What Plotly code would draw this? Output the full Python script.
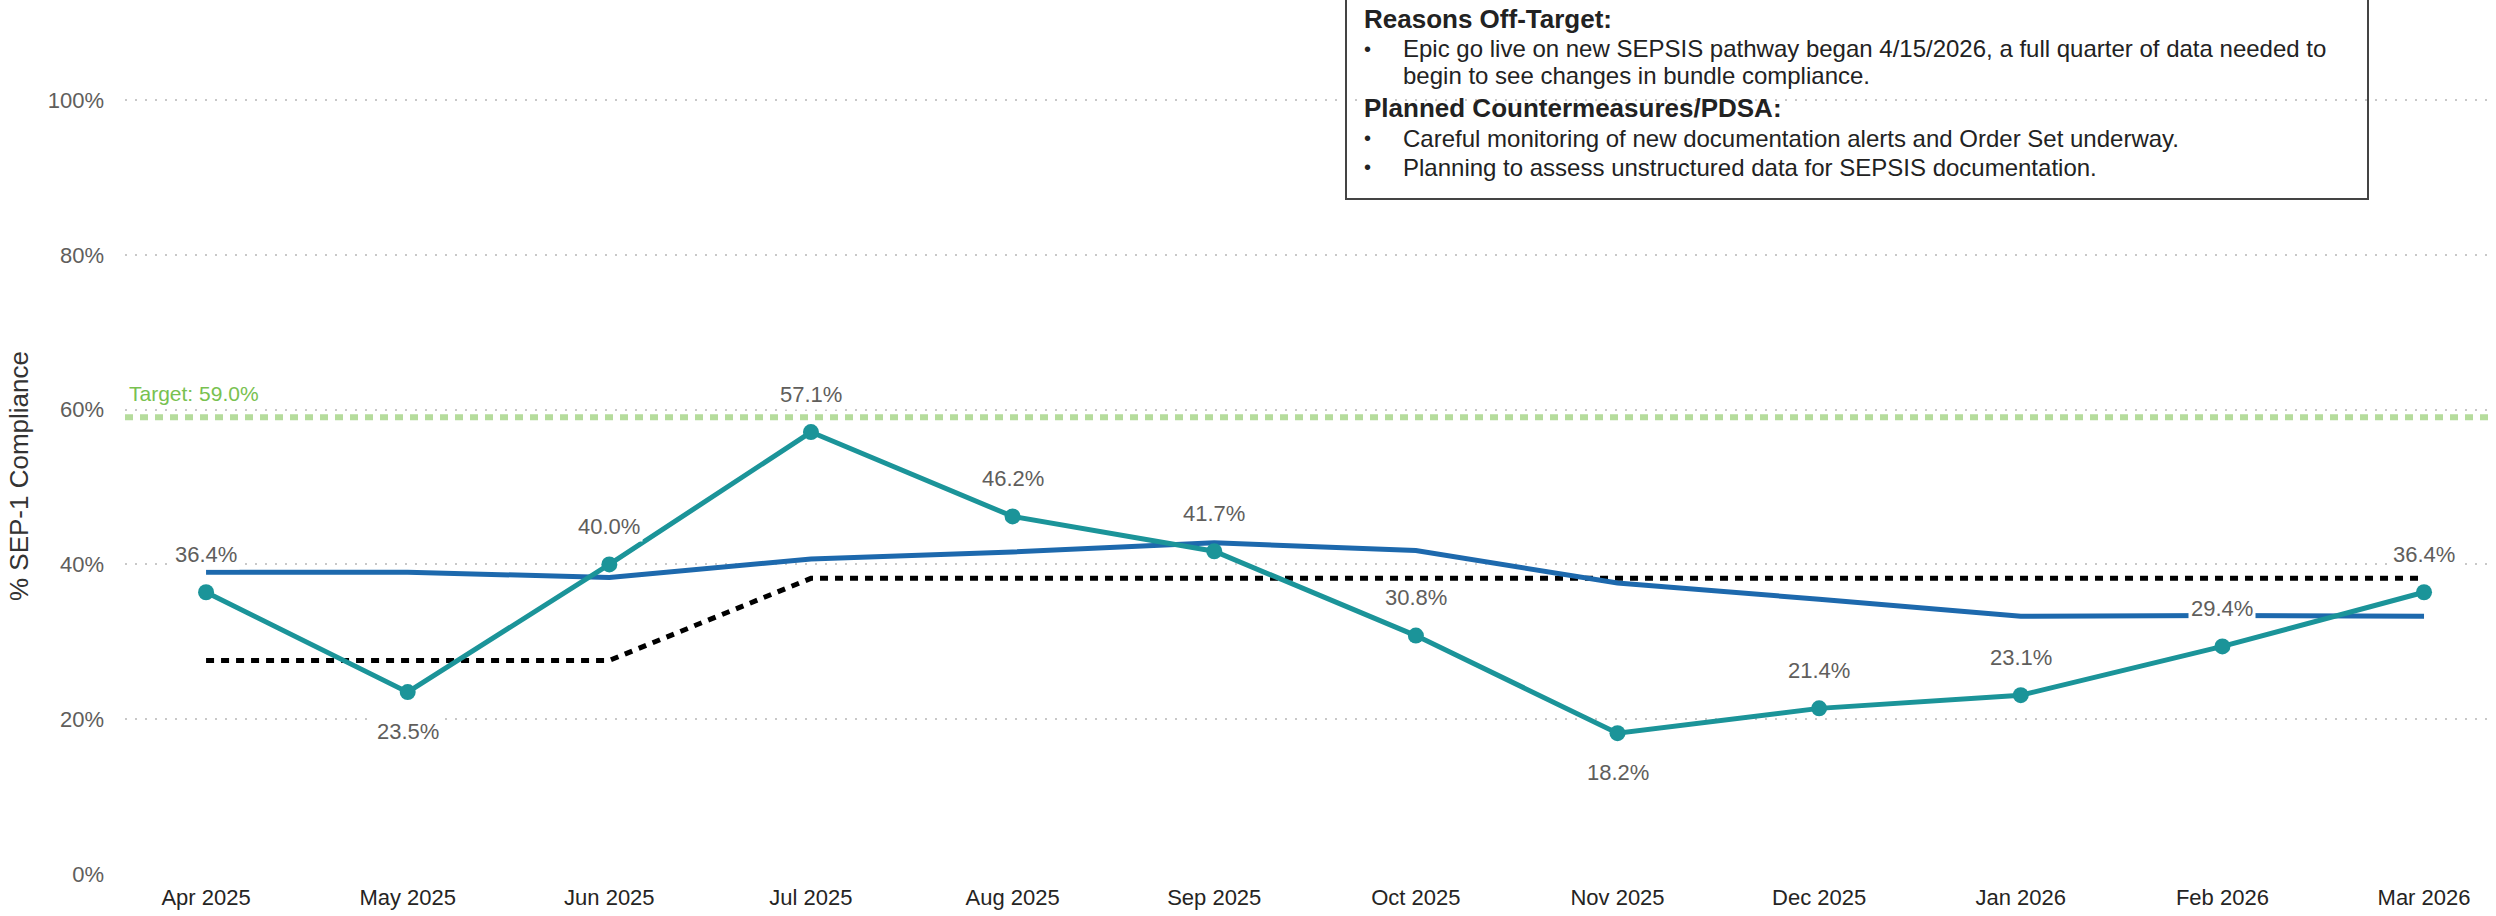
import plotly.graph_objects as go

# data
months = ["Apr 2025", "May 2025", "Jun 2025", "Jul 2025", "Aug 2025", "Sep 2025",
          "Oct 2025", "Nov 2025", "Dec 2025", "Jan 2026", "Feb 2026", "Mar 2026"]
compliance = [36.4, 23.5, 40.0, 57.1, 46.2, 41.7, 30.8, 18.2, 21.4, 23.1, 29.4, 36.4]
benchmark = [39.0, 39.0, 38.3, 40.7, 41.6, 42.8, 41.8, 37.6, 35.5, 33.3, 33.4, 33.3]
baseline = [27.6, 27.6, 27.6, 38.2, 38.2, 38.2, 38.2, 38.2, 38.2, 38.2, 38.2, 38.2]
label_side = ["up", "down", "up", "up", "up", "up", "up", "down", "up", "up", "up", "up"]
target = 59.0
yticks = [0, 20, 40, 60, 80, 100]

notes_head1 = "Reasons Off-Target:"
notes_1 = ["Epic go live on new SEPSIS pathway began 4/15/2026, a full quarter of data needed to",
           "begin to see changes in bundle compliance."]
notes_head2 = "Planned Countermeasures/PDSA:"
notes_2 = ["Careful monitoring of new documentation alerts and Order Set underway.",
           "Planning to assess unstructured data for SEPSIS documentation."]

W, H = 2496, 916
L, R, T, B = 125, 2494, 84, 874


def px_x(p):
    return (p - L) / (R - L)


def px_y(p):
    return (B - p) / (B - T)


TEAL = "#1b9499"
BLUE = "#1d69ad"
FONT = "Liberation Sans, Arial, sans-serif"

fig = go.Figure()

fig.add_trace(go.Scatter(x=months, y=baseline, mode="lines",
                         line=dict(color="black", width=5, dash="8px,7px"),
                         hoverinfo="skip"))
fig.add_trace(go.Scatter(x=months, y=benchmark, mode="lines",
                         line=dict(color=BLUE, width=5), name="benchmark"))
fig.add_trace(go.Scatter(x=months, y=compliance, mode="lines+markers",
                         line=dict(color=TEAL, width=5),
                         marker=dict(size=16, color=TEAL), name="compliance"))

# target line
fig.add_shape(type="line", xref="paper", yref="y", x0=0, x1=1, y0=target, y1=target,
              line=dict(color="#b5dc9c", width=6, dash="8px,7px"), layer="below")
fig.add_annotation(xref="paper", yref="y", x=px_x(127), y=target, yshift=24,
                   xanchor="left", yanchor="middle", showarrow=False,
                   text="Target: %.1f%%" % target,
                   font=dict(family=FONT, size=21, color="#78c150"))

# data labels
for m, v, s in zip(months, compliance, label_side):
    fig.add_annotation(x=m, y=v, yshift=38 if s == "up" else -39, showarrow=False,
                       text="%.1f%%" % v, bgcolor="white", borderpad=2,
                       font=dict(family=FONT, size=22, color="#605e5c"))

# notes box
fig.add_shape(type="rect", xref="paper", yref="paper",
              x0=px_x(1346), x1=px_x(2368), y0=px_y(199), y1=px_y(-4),
              line=dict(color="#444444", width=2), fillcolor="rgba(0,0,0,0)")

rows = [(notes_head1, 19, True, False), (notes_1[0], 49, False, True),
        (notes_1[1], 76, False, False), (notes_head2, 108, True, False),
        (notes_2[0], 138, False, True), (notes_2[1], 167, False, True)]
for txt, y, bold, bullet in rows:
    if bold:
        fig.add_annotation(xref="paper", yref="paper", x=px_x(1362), y=px_y(y),
                           xanchor="left", yanchor="middle", showarrow=False,
                           text="<b>%s</b>" % txt,
                           font=dict(family=FONT, size=26, color="#222222"))
    else:
        if bullet:
            fig.add_annotation(xref="paper", yref="paper", x=px_x(1362), y=px_y(y),
                               xanchor="left", yanchor="middle", showarrow=False,
                               text="•", font=dict(family=FONT, size=20, color="#222222"))
        fig.add_annotation(xref="paper", yref="paper", x=px_x(1401), y=px_y(y),
                           xanchor="left", yanchor="middle", showarrow=False,
                           text=txt, font=dict(family=FONT, size=24, color="#222222"))

# y axis title
fig.add_annotation(xref="paper", yref="paper", x=px_x(19), y=px_y(476),
                   textangle=-90, showarrow=False, xanchor="center", yanchor="middle",
                   text="% SEP-1 Compliance",
                   font=dict(family=FONT, size=26, color="#333333"))

fig.update_layout(
    width=W, height=H,
    margin=dict(l=L, r=W - R, t=T, b=H - B),
    plot_bgcolor="white", paper_bgcolor="white",
    showlegend=False,
    xaxis=dict(type="category", range=[-0.402, 11.347], showgrid=False, zeroline=False,
               showline=False, ticks="", ticklabelstandoff=8,
               tickfont=dict(family=FONT, size=22, color="#252423")),
    yaxis=dict(range=[0, 102.07], tickvals=yticks, ticktext=["%d%%" % t for t in yticks],
               showgrid=True, gridcolor="#c8c8c8", gridwidth=2, griddash="2px,8px",
               zeroline=False, showline=False, ticks="", ticklabelstandoff=20,
               tickfont=dict(family=FONT, size=22, color="#605e5c")),
)

fig.write_html("out.html", config={"displayModeBar": False},
               post_script="document.body.style.margin='0';")
